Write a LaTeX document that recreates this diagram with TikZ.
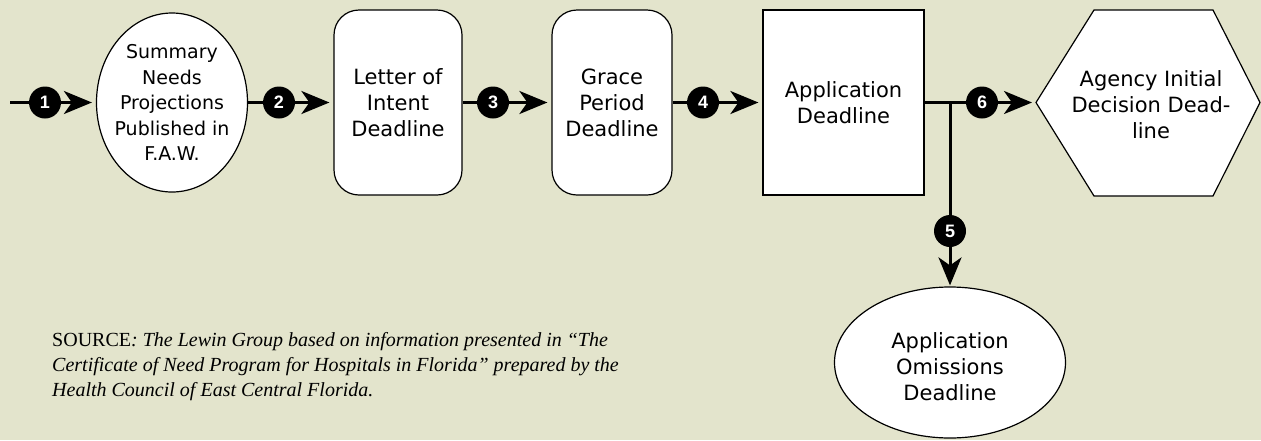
\documentclass[tikz,border=0pt]{standalone}
\usepackage{fontspec}
\setmainfont{DejaVu Sans}
\newfontfamily\numfont{Liberation Sans}
\newfontfamily\srcfont{Liberation Serif}
\usetikzlibrary{shapes.geometric,arrows.meta}
\definecolor{bgcol}{RGB}{227,228,204}
\pgfdeclarelayer{bg}
\pgfsetlayers{bg,main}
\begin{document}
\begin{tikzpicture}[x=1pt,y=-1pt,
  boxtext/.style={font=\fontsize{21}{26}\selectfont, align=center},
  stepbox/.style={draw=black, line width=1.2pt, fill=white, boxtext, inner sep=0pt},
  oval/.style={ellipse, draw=black, line width=1.2pt, fill=white, inner sep=0pt},
  numc/.style={circle, fill=black, minimum size=32pt, inner sep=0pt, text=white, font=\numfont\bfseries\fontsize{18}{18}\selectfont},
  conn/.style={line width=3pt, -{Stealth[length=28pt,width=23pt,inset=8pt]}, shorten >=4pt},
  plain/.style={line width=3pt},
  hexline/.style={draw=black, line width=1.2pt, fill=white}
]
\useasboundingbox (0,0) rectangle (1261,440);

\coordinate (start) at (10,102.5);
\node[numc] (c1) at (45,102.5) {1};
\node[oval, minimum width=151pt, minimum height=179pt,
  label={[boxtext, font=\fontsize{19}{25.5}\selectfont]center:Summary\\Needs\\Projections\\Published in\\F.A.W.}] (e1) at (172,102.5) {};
\node[numc] (c2) at (279,102.5) {2};
\node[stepbox, rounded corners=25pt, minimum width=128pt, minimum height=185pt] (b1) at (398,102.5) {Letter of\\Intent\\Deadline};
\node[numc] (c3) at (493,102.5) {3};
\node[stepbox, rounded corners=25pt, minimum width=120pt, minimum height=185pt] (b2) at (612,102.5) {Grace\\Period\\Deadline};
\node[numc] (c4) at (703,102.5) {4};
\node[stepbox, minimum width=161pt, minimum height=185pt] (b3) at (843.5,102.5) {Application\\Deadline};
\coordinate (j) at (950,102.5);
\node[numc] (c6) at (982,102.5) {6};

\coordinate (hL) at (1036,102.5);
\coordinate (hTL) at (1094,10);
\coordinate (hTR) at (1213,10);
\coordinate (hR) at (1260,102.5);
\coordinate (hBR) at (1213,196);
\coordinate (hBL) at (1094,196);
\draw[hexline] (hL) -- (hTL) -- (hTR) -- (hR) -- (hBR) -- (hBL) -- cycle;
\node[boxtext] (hex) at (1151,105) {Agency Initial\\Decision Dead-\\line};

\node[numc] (c5) at (950,231) {5};
\node[oval, minimum width=231pt, minimum height=151pt,
  label={[boxtext, yshift=-4pt]center:Application\\Omissions\\Deadline}] (e2) at (950,362.5) {};

\node[anchor=north west, inner sep=0pt, align=left, font=\srcfont\itshape\fontsize{20}{25}\selectfont] (src) at (52,332)
  {{\upshape SOURCE}: The Lewin Group based on information presented in “The\\Certificate of Need Program for Hospitals in Florida” prepared by the\\Health Council of East Central Florida.};

\begin{pgfonlayer}{bg}
\fill[bgcol] (0,0) rectangle (1261,440);
\draw[conn] (start) -- (e1.west);
\draw[conn] (e1.east) -- (b1.west);
\draw[conn] (b1.east) -- (b2.west);
\draw[conn] (b2.east) -- (b3.west);
\draw[plain] (b3.east) -- (j);
\draw[conn] (j) -- (hL);
\draw[conn, shorten >=1pt] (j) -- (e2.north);
\end{pgfonlayer}
\end{tikzpicture}
\end{document}
